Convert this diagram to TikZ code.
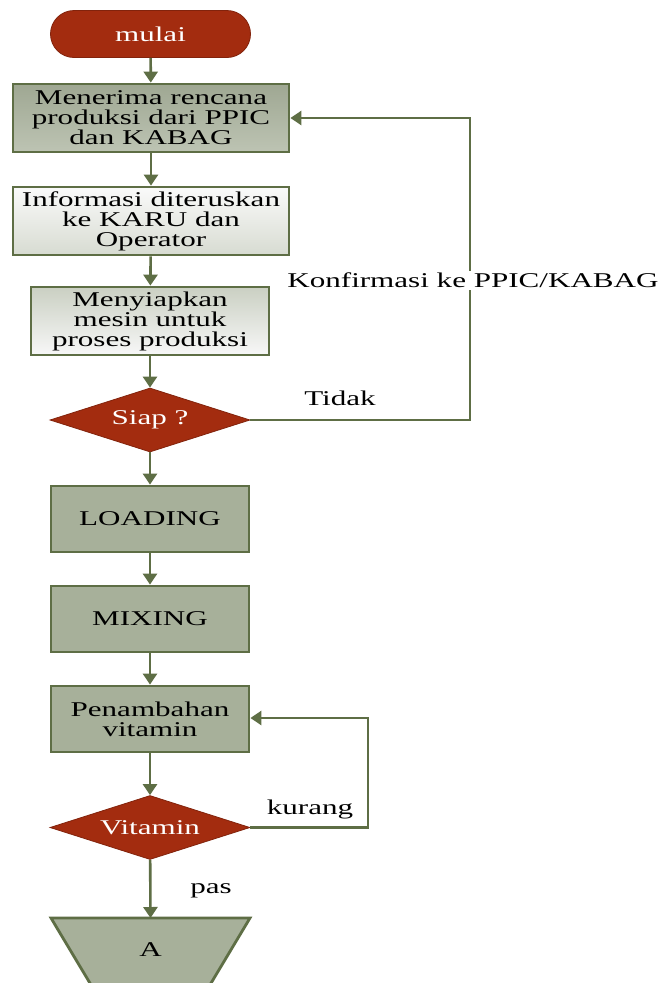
\documentclass[tikz,border=0pt]{standalone}
\usepackage{fontspec}
\setmainfont[FakeStretch=1.48]{Liberation Serif}
\usetikzlibrary{shapes.geometric,shapes.misc,arrows.meta}
\definecolor{edge}{HTML}{5E6E45}
\definecolor{redf}{HTML}{A32C0F}
\definecolor{boxf}{HTML}{A7B09A}
\tikzset{
  base/.style={draw=edge, line width=2.8pt, align=center, font=\fontsize{21}{20}\selectfont, inner sep=0pt},
  term/.style={base, rounded rectangle, fill=redf, text=white, minimum width=200pt, minimum height=47pt, draw=redf!80!black, line width=0.8pt},
  procbox/.style={base, rectangle, fill=boxf, minimum height=66pt},
  dec/.style={base, diamond, aspect=3.1, fill=redf, text=white, draw=redf!80!black, line width=0.8pt, minimum width=200pt, minimum height=64pt},
  conn/.style={draw=edge, line width=2.6pt, -{Triangle[length=11pt,width=14pt]}},
  lbl/.style={font=\fontsize{21}{20}\selectfont, inner sep=1pt}
}
\begin{document}
\begin{tikzpicture}[x=1pt,y=-1pt]
\useasboundingbox (0,0) rectangle (657,983);
\fill[white] (0,0) rectangle (657,983);
\node[term] (mulai) at (150.5,34) {mulai};
\node[procbox, minimum width=276pt, minimum height=68pt, top color=boxf!95!black, bottom color=boxf!75!white] (b1) at (151,118) {Menerima rencana\\produksi dari PPIC\\dan KABAG};
\node[procbox, minimum width=276pt, minimum height=68pt, top color=black!2!white, bottom color=boxf!45!white] (b2) at (151,221) {Informasi diteruskan\\ke KARU dan\\Operator};
\node[procbox, minimum width=238pt, minimum height=68pt, top color=boxf!60!white, bottom color=black!3!white] (b3) at (150,321) {Menyiapkan\\mesin untuk\\proses produksi};
\node[dec] (siap) at (150,420) {Siap ?};
\node[procbox, minimum width=198pt] (load) at (150,519) {LOADING};
\node[procbox, minimum width=198pt] (mix) at (150,619) {MIXING};
\node[procbox, minimum width=198pt] (pen) at (150,719) {Penambahan\\vitamin};
\node[dec] (vit) at (150,827.5) {Vitamin};
\begin{scope}
\clip (0,0) rectangle (657,983);
\draw[draw=edge, line width=2.8pt, fill=boxf] (51,918) -- (250,918) -- (183,1030) -- (118,1030) -- cycle;
\end{scope}
\coordinate (A) at (150.5,918);
\node[lbl] (At) at (150.5,950) {A};
\draw[conn] (mulai) -- (b1);
\draw[conn] (b1) -- (b2);
\draw[conn] (b2) -- (b3);
\draw[conn] (b3) -- (siap);
\draw[conn] (siap) -- (load);
\draw[conn] (load) -- (mix);
\draw[conn] (mix) -- (pen);
\draw[conn] (pen) -- (vit);
\draw[conn] (vit) -- (A);
\coordinate (c1) at (470,420);
\coordinate (c2) at (470,118);
\draw[conn] (siap.east) -- (c1) -- (c2) -- (b1.east);
\coordinate (d1) at (368,827.5);
\coordinate (d2) at (368,718);
\draw[conn] (vit.east) -- (d1) -- (d2) -- (pen.east |- d2);
\node[lbl, fill=white, inner sep=2pt] (konf) at (473,280) {Konfirmasi ke PPIC/KABAG};
\node[lbl] (tidak) at (340,398) {Tidak};
\node[lbl] (kurang) at (310,809) {kurang};
\node[lbl] (pas) at (211,891) {pas};
\end{tikzpicture}
\end{document}
